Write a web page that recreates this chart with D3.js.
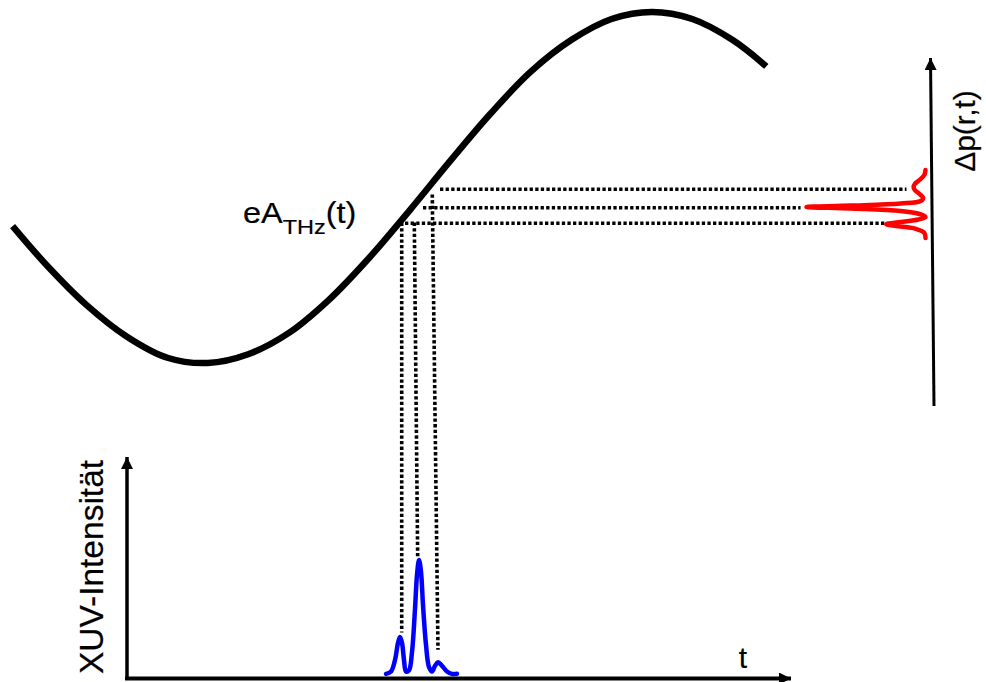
<!DOCTYPE html>
<html>
<head>
<meta charset="utf-8">
<script src="https://cdn.jsdelivr.net/npm/d3@7"></script>
<style>
    body { margin: 0; background: #fff; }
    text { font-family: "Liberation Sans", Arial, sans-serif; fill: #000; stroke: #000; stroke-width: 0.2px; }
</style>
</head>
<body>
<div id="chart"></div>
<script>
// THz streaking sketch

// vector potential eA_THz(t)
var curveT = [-17, -12, -6, 0, 6, 12, 18, 24, 30, 36, 42, 48, 54, 60, 66, 72, 78, 84, 90, 95];
var curveA = [-0.22, -0.44, -0.67, -0.85, -0.97, -1.00, -0.95, -0.83, -0.64, -0.40, -0.13, 0.15, 0.42, 0.66, 0.84, 0.96, 1.00, 0.96, 0.84, 0.69];

// XUV intensity (blue pulse train)
var xuvT = [38.48, 39.23, 39.82, 40.27, 40.56, 40.86, 41.16, 41.46, 41.90, 42.35, 42.79, 43.09, 43.39, 43.68, 43.98, 44.43, 44.87, 45.32, 45.77, 46.21, 46.81, 47.55, 48.29, 49.03];
var xuvI = [0.01, 0.03, 0.13, 0.28, 0.33, 0.28, 0.13, 0.03, 0.04, 0.20, 0.57, 0.87, 1.00, 0.90, 0.61, 0.26, 0.07, 0.03, 0.08, 0.11, 0.08, 0.03, 0.01, 0.01];

// momentum spectrum Δp (red), position in A units, amplitude
var dpA = [0.100, 0.071, 0.043, 0.020, 0.003, -0.014, -0.037, -0.060, -0.077, -0.091, -0.103, -0.111, -0.120, -0.134, -0.151, -0.168, -0.182, -0.197, -0.210, -0.222, -0.236, -0.259, -0.288];
var dpR = [0.00, 0.01, 0.05, 0.09, 0.10, 0.09, 0.05, 0.02, 0.04, 0.21, 0.63, 1.00, 0.63, 0.21, 0.05, 0.00, 0.06, 0.21, 0.33, 0.21, 0.08, 0.01, 0.00];

// dotted projections: pulse -> curve
var vTopT = [40.82, 42.69, 45.36];
var vTopA = [-0.20, -0.20, -0.04];
var vBotT = [40.82, 43.19, 46.21];
var vBotI = [0.37, 1.03, 0.22];

// dotted projections: curve -> spectrum
var hA = [-0.01, -0.115, -0.204];
var hT = [46.51, 43.98, 41.31];
var hR = [0.16, 1.05, 0.32];

var width = 986,
    height = 682;

var svg = d3.select("#chart").append("svg")
    .attr("width", width)
    .attr("height", height);

svg.append("rect").attr("width", width).attr("height", height).attr("fill", "#fff");

var x = d3.scaleLinear().domain([0, 100]).range([127, 800]);
var yA = d3.scaleLinear().domain([-1, 1]).range([363, 12]);
var yI = d3.scaleLinear().domain([0, 1]).range([675, 560]);
var xR = d3.scaleLinear().domain([0, 1]).range([925.5, 806.5]);

var defs = svg.append("defs");
defs.append("marker")
    .attr("id", "arrow")
    .attr("viewBox", "0 0 10 10")
    .attr("refX", 10)
    .attr("refY", 5)
    .attr("markerWidth", 12)
    .attr("markerHeight", 12)
    .attr("markerUnits", "userSpaceOnUse")
    .attr("orient", "auto")
    .append("path")
    .attr("d", "M0,0 L10,5 L0,10 Z")
    .attr("fill", "#000");

// dotted lines (under the curves)
var dots = svg.append("g")
    .attr("stroke", "#000")
    .attr("stroke-width", 3.6)
    .attr("stroke-dasharray", "3.3 2.3");

dots.selectAll("line.v")
    .data(d3.range(vTopT.length))
    .enter().append("line")
    .attr("class", "v")
    .attr("x1", function(i) { return x(vTopT[i]); })
    .attr("y1", function(i) { return yA(vTopA[i]); })
    .attr("x2", function(i) { return x(vBotT[i]); })
    .attr("y2", function(i) { return yI(vBotI[i]); });

dots.selectAll("line.h")
    .data(d3.range(hA.length))
    .enter().append("line")
    .attr("class", "h")
    .attr("x1", function(i) { return x(hT[i]); })
    .attr("y1", function(i) { return yA(hA[i]); })
    .attr("x2", function(i) { return xR(hR[i]); })
    .attr("y2", function(i) { return yA(hA[i]); });

// black vector potential
var lineA = d3.line()
    .x(function(i) { return x(curveT[i]); })
    .y(function(i) { return yA(curveA[i]); })
    .curve(d3.curveCatmullRom);

svg.append("path")
    .attr("d", lineA(d3.range(curveT.length)))
    .attr("fill", "none")
    .attr("stroke", "#000")
    .attr("stroke-width", 6.5);

// axes of the lower panel
svg.append("line")
    .attr("x1", 127).attr("y1", 678)
    .attr("x2", 127).attr("y2", 457)
    .attr("stroke", "#000").attr("stroke-width", 3.5)
    .attr("marker-end", "url(#arrow)");

svg.append("line")
    .attr("x1", 125).attr("y1", 678.5)
    .attr("x2", 791).attr("y2", 678.5)
    .attr("stroke", "#000").attr("stroke-width", 3.8)
    .attr("marker-end", "url(#arrow)");

// momentum axis
svg.append("line")
    .attr("x1", 934).attr("y1", 406)
    .attr("x2", 930.5).attr("y2", 58)
    .attr("stroke", "#000").attr("stroke-width", 3)
    .attr("marker-end", "url(#arrow)");

// blue XUV pulses
var lineI = d3.line()
    .x(function(i) { return x(xuvT[i]); })
    .y(function(i) { return yI(xuvI[i]); })
    .curve(d3.curveCatmullRom);

svg.append("path")
    .attr("d", lineI(d3.range(xuvT.length)))
    .attr("fill", "none")
    .attr("stroke", "#0000ff")
    .attr("stroke-width", 4.5)
    .attr("stroke-linecap", "round");

// red streaked spectrum
var lineR = d3.line()
    .x(function(i) { return xR(dpR[i]); })
    .y(function(i) { return yA(dpA[i]); })
    .curve(d3.curveCatmullRom);

svg.append("path")
    .attr("d", lineR(d3.range(dpA.length)))
    .attr("fill", "none")
    .attr("stroke", "#ff0000")
    .attr("stroke-width", 4.5)
    .attr("stroke-linecap", "round");

// labels
var lab = svg.append("text")
    .attr("transform", "translate(243,223) scale(1.12,1)")
    .style("font-size", "29px");
lab.append("tspan").text("eA");
lab.append("tspan").attr("dy", 11).style("font-size", "21px").text("THz");
lab.append("tspan").attr("dy", -11).text("(t)");

svg.append("text")
    .attr("transform", "translate(103,567) rotate(-90)")
    .attr("text-anchor", "middle")
    .style("font-size", "33.5px")
    .text("XUV-Intensität");

svg.append("text")
    .attr("x", 743).attr("y", 668)
    .attr("text-anchor", "middle")
    .style("font-size", "30px")
    .text("t");

svg.append("text")
    .attr("transform", "translate(975,131) rotate(-90)")
    .attr("text-anchor", "middle")
    .style("font-size", "30px")
    .text("Δp(r,t)");
</script>
</body>
</html>
